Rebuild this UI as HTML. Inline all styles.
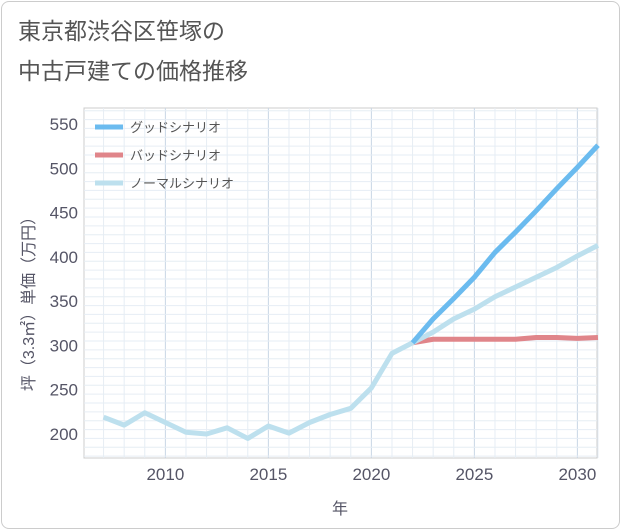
<!DOCTYPE html>
<html><head><meta charset="utf-8">
<style>
body{margin:0;background:#fff;font-family:"Liberation Sans","Noto Sans CJK JP",sans-serif;}
#card{position:absolute;left:1px;top:1px;width:617px;height:526px;border:1px solid #ccc;border-radius:8px;background:#fff;}
.t{position:absolute;left:18px;font-size:23px;color:#555;}
</style></head><body>
<div id="card"></div>
<div class="t" style="top:12px">東京都渋谷区笹塚の</div>
<div class="t" style="top:52px">中古戸建ての価格推移</div>
<svg id="c" width="621" height="530" style="position:absolute;left:0;top:0"></svg>
<script>
const years=[2007,2008,2009,2010,2011,2012,2013,2014,2015,2016,2017,2018,2019,2020,2021,2022,2023,2024,2025,2026,2027,2028,2029,2030,2031];
const normal=[219,210,224,213,202,200,207,195,209,201,213,222,229,252,291,303,315,330,341,355,366,377,388,401,413];
const goodYears=[2022,2023,2024,2025,2026,2027,2028,2029,2030,2031];
const good=[303,330,353,377,405,428,452,477,501,526];
const bad=[303,307,307,307,307,307,309,309,308,309];
const xTicks=[2010,2015,2020,2025,2030];
const yTicks=[200,250,300,350,400,450,500,550];
const L=84,R=597,T=108,B=458;
const X=y=>L+(y-2006.05)*20.6;
const Y=v=>434-(v-200)*0.8857;
const svg=document.getElementById('c');
const NS='http://www.w3.org/2000/svg';
function mk(t,a){const e=document.createElementNS(NS,t);for(const k in a)e.setAttribute(k,a[k]);svg.appendChild(e);return e;}
let bg=mk('rect',{x:L,y:T,width:R-L,height:B-T,fill:'#fff',stroke:'#ccc'});


for(let y=2007;y<=2031;y++){let g=mk('line',{x1:X(y),x2:X(y),y1:T,y2:B,stroke:xTicks.includes(y)?'#c8d6e5':'#e6edf4','stroke-width':1});

}
for(let v=175;v<=575;v+=10){if(Y(v)<T||Y(v)>B)continue;let g=mk('line',{x1:L,x2:R,y1:Y(v),y2:Y(v),stroke:v%50==0?'#c8d6e5':'#e6edf4','stroke-width':1});

}
xTicks.forEach(t=>{let e=mk('text',{x:X(t),y:480,'text-anchor':'middle','font-size':17,fill:'#556'});e.textContent=t;

});
yTicks.forEach(t=>{let e=mk('text',{x:78,y:Y(t)+6,'text-anchor':'end','font-size':17,fill:'#556'});e.textContent=t;

});
let xt=mk('text',{x:340,y:514,'text-anchor':'middle','font-size':16,fill:'#556'});xt.textContent='年';


let yt=mk('text',{x:0,y:0,'text-anchor':'middle','font-size':16,fill:'#556',transform:'translate(34,300) rotate(-90)'});yt.textContent='坪（3.3㎡）単価（万円）';


function line(xs,vs,col,w,name){let p=mk('polyline',{points:xs.map((y,i)=>X(y)+','+Y(vs[i])).join(' '),fill:'none',stroke:col,'stroke-width':w,'stroke-linejoin':'round'});

}
line(goodYears,bad,'#e0858a',5,'bad-scenario-line');
line(years,normal,'#bde0ee',5,'normal-scenario-line');
line(goodYears,good,'#6bbbef',5,'good-scenario-line');
const legend=[['グッドシナリオ','#6bbbef'],['バッドシナリオ','#e0858a'],['ノーマルシナリオ','#bde0ee']];
legend.forEach((l,i)=>{let y=127+i*28;let s=mk('line',{x1:95,x2:123,y1:y,y2:y,stroke:l[1],'stroke-width':5});


let e=mk('text',{x:130,y:y+5,'font-size':13,fill:'#555'});e.textContent=l[0];

});
</script>
</body></html>
